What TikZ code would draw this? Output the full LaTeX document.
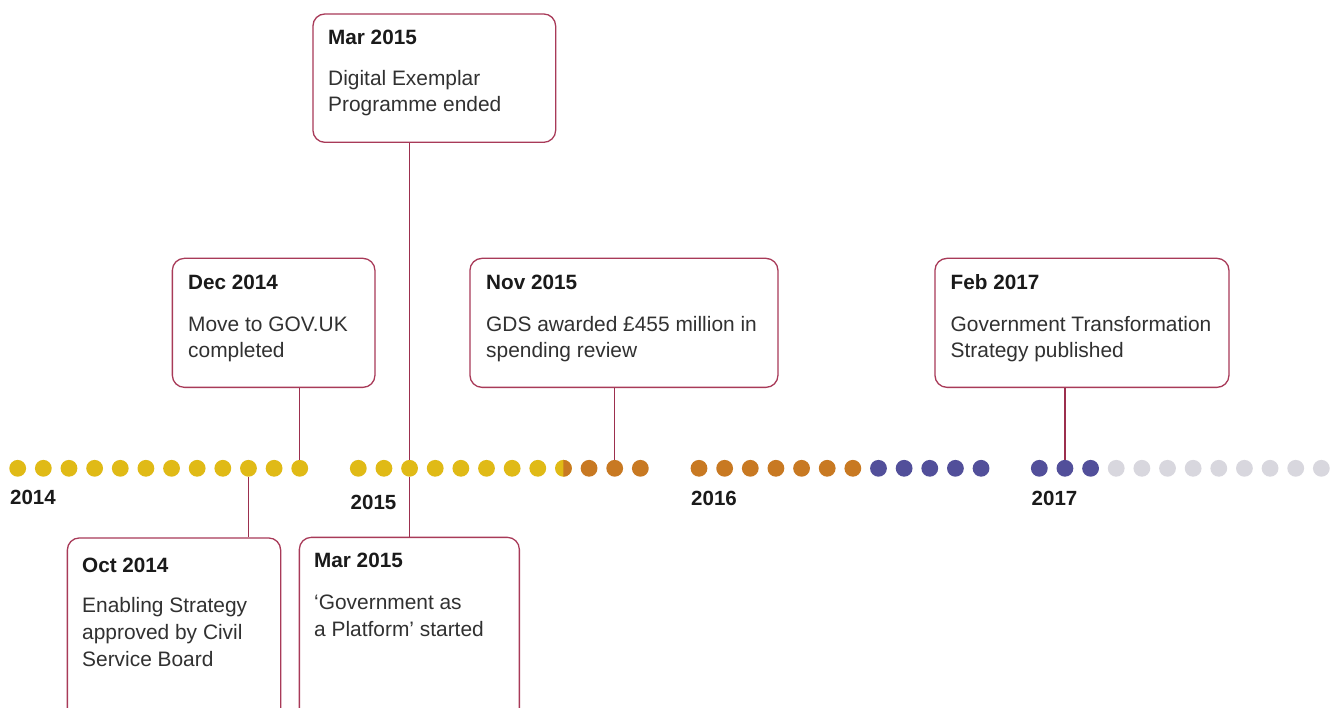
\documentclass[tikz,border=0pt]{standalone}
\usepackage{fontspec}
\setmainfont{Liberation Sans}
\usetikzlibrary{calc}
\definecolor{yel}{HTML}{E0BA16}
\definecolor{ora}{HTML}{C87922}
\definecolor{pur}{HTML}{524F9A}
\definecolor{gry}{HTML}{D8D7DE}
\definecolor{boxc}{HTML}{A83A58}
\definecolor{connc}{HTML}{9C2F4E}
\definecolor{txt}{HTML}{1A1A1A}
\tikzset{
  dotnode/.style={circle, minimum size=16.8pt, inner sep=0pt, draw=none},
  evbox/.style={draw=boxc, line width=1.3pt, rounded corners=12pt, fill=white, inner sep=0pt, anchor=north west},
  evtitle/.style={anchor=base west, inner sep=0pt, text=txt, font=\fontsize{20.7}{26}\selectfont\bfseries},
  evbody/.style={anchor=base west, inner sep=0pt, text=txt!90, align=left, font=\fontsize{20.9}{26}\selectfont},
  evbodyb/.style={evbody, font=\fontsize{20.9}{27}\selectfont},
  yearlab/.style={anchor=base west, inner sep=0pt, text=txt, font=\fontsize{20.5}{24}\selectfont\bfseries},
  conn/.style={draw=connc, line width=1.2pt}
}
\begin{document}
\begin{tikzpicture}[x=1pt, y=-1pt]
\clip (0,0) rectangle (1343,708);
\fill[white] (0,0) rectangle (1343,708);

% boxes
\node[evbox, minimum width=242.7pt, minimum height=128.4pt] (mar1) at (312.3,13.3) {};
\node[evbox, minimum width=202.6pt, minimum height=129pt] (dec) at (171.7,257.7) {};
\node[evbox, minimum width=308pt, minimum height=129pt] (nov) at (469.3,257.7) {};
\node[evbox, minimum width=294pt, minimum height=129pt] (feb) at (934.3,257.7) {};
\node[evbox, minimum width=213.3pt, minimum height=200pt] (oct) at (66.7,537.3) {};
\node[evbox, minimum width=220pt, minimum height=200pt] (mar2) at (298.7,536.7) {};

% box texts (body anchors sit on the last line's baseline)
\node[evtitle] (mar1t) at (328,44.3) {Mar 2015};
\node[evbody] (mar1b) at (328,111.7) {Digital Exemplar\\Programme ended};
\node[evtitle] (dect) at (188,289.3) {Dec 2014};
\node[evbody] (decb) at (188,357.3) {Move to GOV.UK\\completed};
\node[evtitle] (novt) at (486,289.3) {Nov 2015};
\node[evbody] (novb) at (486,357.3) {GDS awarded £455 million in\\spending review};
\node[evtitle] (febt) at (950.5,289.3) {Feb 2017};
\node[evbody] (febb) at (950.5,357.3) {Government Transformation\\Strategy published};
\node[evtitle] (octt) at (82,572.3) {Oct 2014};
\node[evbodyb] (octb) at (82,666.7) {Enabling Strategy\\approved by Civil\\Service Board};
\node[evtitle] (mar2t) at (314,567.7) {Mar 2015};
\node[evbodyb] (mar2b) at (314,636) {‘Government as\\a Platform’ started};

% dots
\foreach \s/\x in {1/17.7,2/358.3,3/699,4/1039.3} {
  \foreach \i in {1,...,12} {
    \pgfmathtruncatemacro{\k}{(\s-1)*12+\i}
    \ifnum\k<22 \def\dc{yel}\else
      \ifnum\k<32 \def\dc{ora}\else
        \ifnum\k<40 \def\dc{pur}\else \def\dc{gry}\fi
      \fi
    \fi
    \node[dotnode, fill=\dc] (d\s-\i) at ({\x+(\i-1)*25.64},468.3) {};
  }
}
% split dot
\begin{scope}
  \clip (d2-9.north) rectangle ($(d2-9.south)+(12,0)$);
  \fill[ora] (d2-9.center) circle[radius=8.4pt];
\end{scope}

% year labels
\node[yearlab] (y14) at (10,504.3) {2014};
\node[yearlab] (y15) at (350.5,509.3) {2015};
\node[yearlab] (y16) at (691,505) {2016};
\node[yearlab] (y17) at (1031.5,505) {2017};

% connectors
\draw[conn] (d1-12) -- (d1-12 |- dec.south);
\draw[conn] (d1-10) -- (d1-10 |- oct.north);
\draw[conn] (d2-3) -- (d2-3 |- mar1.south);
\draw[conn] (d2-3) -- (d2-3 |- mar2.north);
\draw[conn] (d2-11) -- (d2-11 |- nov.south);
\draw[conn] (d4-2) -- (d4-2 |- feb.south);
\end{tikzpicture}
\end{document}
